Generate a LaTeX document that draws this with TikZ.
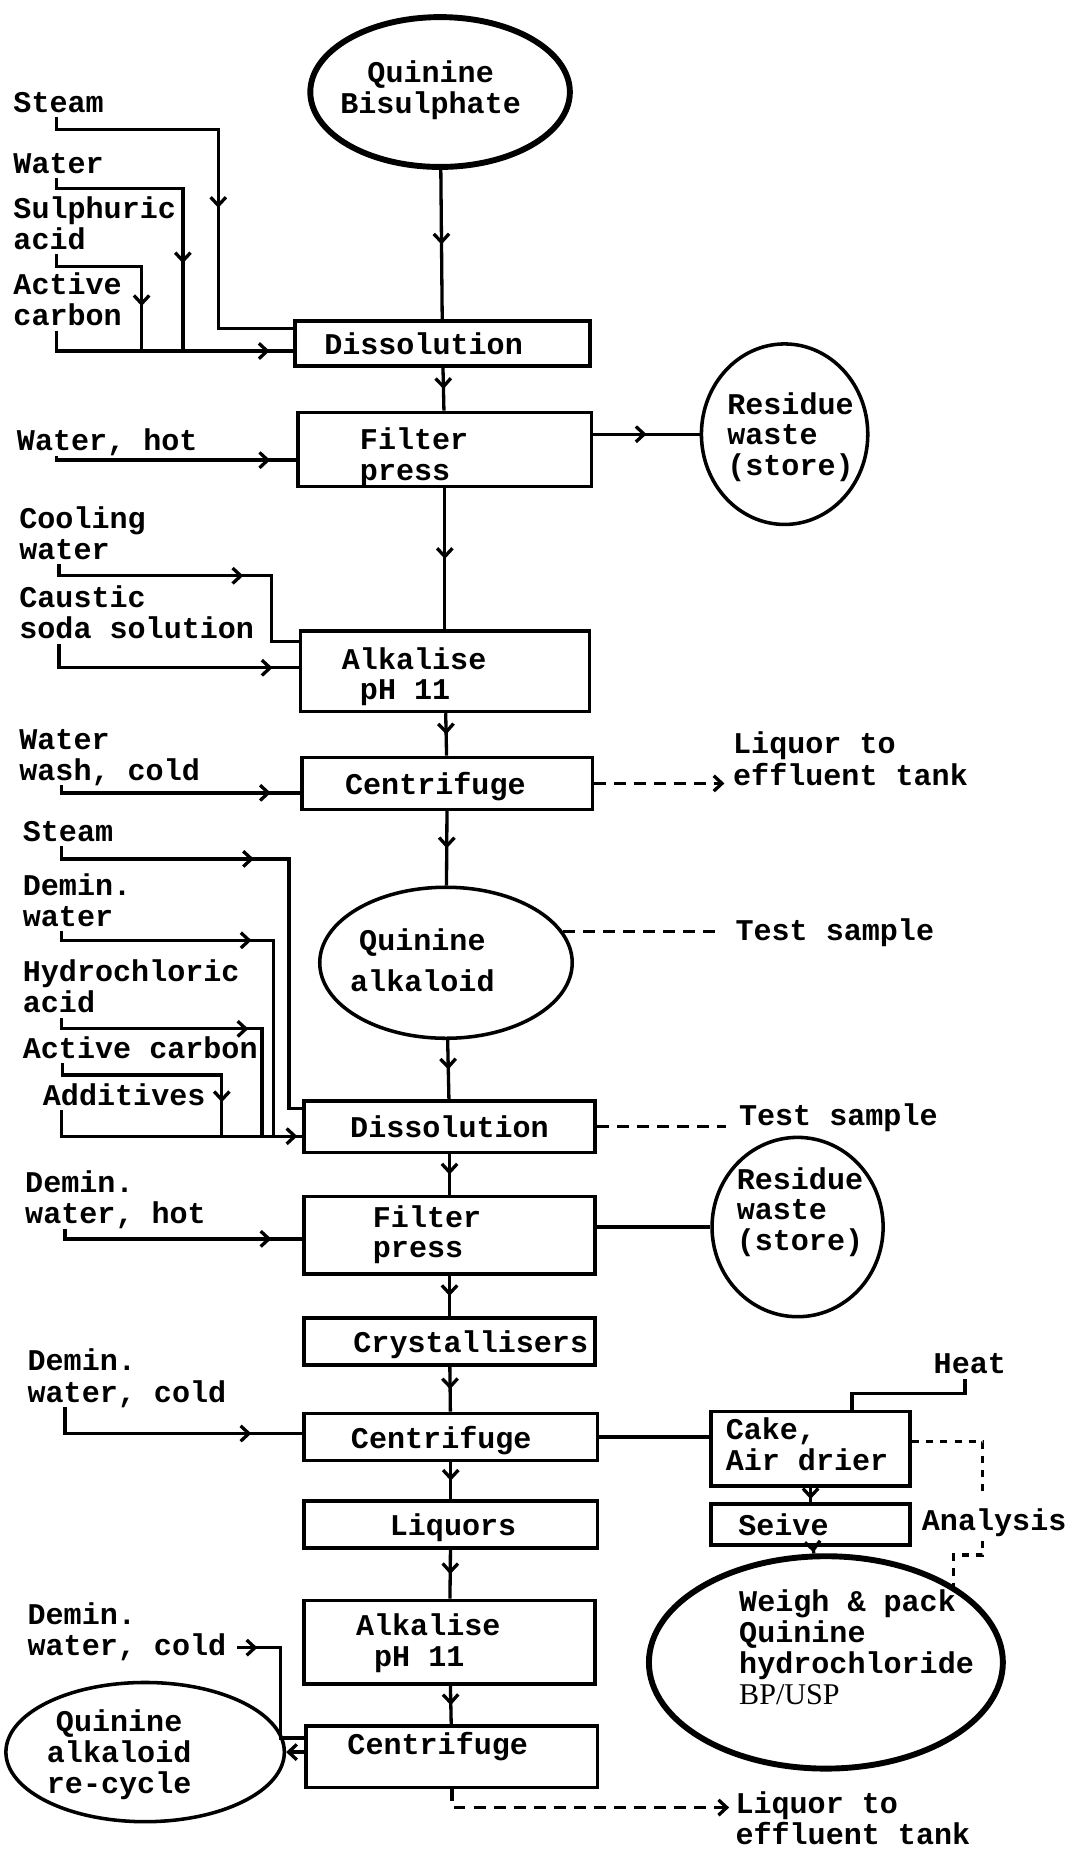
\documentclass[tikz,border=0pt]{standalone}
\usepackage{fontspec}
\setmainfont{Liberation Mono}
\newfontfamily\bpfont{Liberation Serif}
\usetikzlibrary{positioning,arrows.meta,shapes.geometric,decorations.markings}

\newcommand{\lbl}[1]{\begin{tabular}[t]{@{}l@{}}#1\end{tabular}}
\newcommand{\intext}[4][c]{%
  \makebox[0pt]{\kern#2\relax\smash{\raisebox{\dimexpr#3-10pt\relax}{%
    \begin{tabular}{@{}#1@{}}#4\end{tabular}}}\kern-#2\relax}}

\tikzset{
  procbox/.style={draw, rectangle, line width=3pt, inner sep=0pt},
  vessel/.style={draw, ellipse, line width=3pt, inner sep=0pt},
  bigvessel/.style={vessel, line width=5pt},
  feed/.style={anchor=base west, inner sep=0pt},
  dashline/.style={dash pattern=on 10pt off 7pt},
  dotline/.style={dash pattern=on 6pt off 6pt},
  arrat/.style={postaction={decorate,
      decoration={markings, mark=at position #1 with {\arrow{>}}}}}
}

\begin{document}
\begin{tikzpicture}[x=1pt, y=-1pt, line width=2.8pt,
    >={Straight Barb[length=7pt,width=13pt]},
    font=\fontsize{25.5}{26}\selectfont\bfseries]
  \useasboundingbox (0,0) rectangle (915,1568);

  % process line
  \node[bigvessel, minimum width=220pt, minimum height=127pt] (bis) at (373,78) {\intext{-8pt}{4pt}{Quinine\\Bisulphate}};
  \node[procbox, minimum width=250pt, minimum height=38pt] (diss1) at (375,291) {\intext{-16pt}{0pt}{Dissolution}};
  \node[procbox, minimum width=249pt, minimum height=63pt] (filt1) at (377,381) {\intext[l]{-26pt}{-4pt}{Filter\\press}};
  \node[vessel, minimum width=141pt, minimum height=153pt] (res1) at (665,368) {\intext[l]{5pt}{0pt}{Residue\\waste\\(store)}};
  \node[procbox, minimum width=245pt, minimum height=68pt] (alk1) at (377,569) {\intext[l]{-26pt}{-2pt}{Alkalise\\\phantom{A}pH 11}};
  \node[procbox, minimum width=246pt, minimum height=44pt] (cen1) at (379,664) {\intext{-10pt}{0pt}{Centrifuge}};
  \node[vessel, minimum width=214pt, minimum height=128pt] (qa) at (378,816) {\intext{-20pt}{2pt}{Quinine\\[9pt]alkaloid}};
  \node[procbox, minimum width=247pt, minimum height=44pt] (diss2) at (381,955) {\intext{0pt}{0pt}{Dissolution}};
  \node[procbox, minimum width=247pt, minimum height=66pt] (filt2) at (381,1047) {\intext[l]{-19pt}{3pt}{Filter\\press}};
  \node[vessel, minimum width=145pt, minimum height=152pt] (res2) at (676,1040) {\intext[l]{2pt}{15pt}{Residue\\waste\\(store)}};
  \node[procbox, minimum width=247pt, minimum height=40pt] (cry) at (381,1137) {\intext{18pt}{0pt}{Crystallisers}};
  \node[procbox, minimum width=249pt, minimum height=40pt] (cen3) at (382,1218) {\intext{-8pt}{0pt}{Centrifuge}};
  \node[procbox, minimum width=169pt, minimum height=63pt] (cake) at (687,1228) {\intext[l]{-3pt}{4pt}{Cake,\\Air drier}};
  \node[procbox, minimum width=169pt, minimum height=35pt] (seive) at (687,1292) {\intext[l]{-23pt}{0pt}{Seive}};
  \node[bigvessel, minimum width=300pt, minimum height=180pt] (wp) at (700,1409) {\intext[l]{26pt}{13pt}{Weigh \& pack\\Quinine\\hydrochloride\\{\bpfont\mdseries BP/USP}}};
  \node[procbox, minimum width=249pt, minimum height=40pt] (liq) at (382,1292) {\intext{2pt}{0pt}{Liquors}};
  \node[procbox, minimum width=247pt, minimum height=71pt] (alk2) at (381,1392) {\intext[l]{-18pt}{2pt}{Alkalise\\\phantom{A}pH 11}};
  \node[procbox, minimum width=247pt, minimum height=52pt] (cen4) at (383,1489) {\intext{-12pt}{11pt}{Centrifuge}};
  \node[vessel, minimum width=236pt, minimum height=118pt] (qar) at (123,1485) {\intext{-22pt}{0pt}{Quinine\\alkaloid\\re-cycle}};

  % feeds and outlets
  \node[feed] (steamA) at (10,95) {\lbl{Steam}};
  \node[feed] (waterA) at (10,147) {\lbl{Water}};
  \node[feed] (sulph) at (10,185) {\lbl{Sulphuric\\acid}};
  \node[feed] (actA) at (10,250) {\lbl{Active\\carbon}};
  \node[feed] (wathot) at (13,382) {\lbl{Water, hot}};
  \node[feed] (cool) at (15,448) {\lbl{Cooling\\water}};
  \node[feed] (caus) at (15,515) {\lbl{Caustic\\soda solution}};
  \node[feed] (wash) at (15,635) {\lbl{Water\\wash, cold}};
  \node[feed] (liqA) at (620,639) {\lbl{Liquor to\\effluent tank}};
  \node[feed] (steamB) at (18,713) {\lbl{Steam}};
  \node[feed] (deminA) at (18,759) {\lbl{Demin.\\water}};
  \node[feed] (test1) at (622,797) {\lbl{Test sample}};
  \node[feed] (hcl) at (18,832) {\lbl{Hydrochloric\\acid}};
  \node[feed] (actB) at (18,897) {\lbl{Active carbon}};
  \node[feed] (add) at (35,937) {\lbl{Additives}};
  \node[feed] (test2) at (625,954) {\lbl{Test sample}};
  \node[feed] (deminB) at (20,1011) {\lbl{Demin.\\water, hot}};
  \node[feed] (deminC) at (22,1162) {\lbl{Demin.\\water, cold}};
  \node[feed] (heat) at (790,1164) {\lbl{Heat}};
  \node[feed] (anal) at (780,1297) {\lbl{Analysis}};
  \node[feed] (deminD) at (22,1377) {\lbl{Demin.\\water, cold}};
  \node[feed] (liqB) at (622,1537) {\lbl{Liquor to\\effluent tank}};
  \coordinate (an1) at (833,1268);
  \coordinate (an2) at (833,1306);

  \draw[arrat=0.5] (bis) -- (diss1);
  \draw[arrat=214pt] ([shift={(38pt,5pt)}]steamA.south west) |- (185,110) |- ([yshift=-8pt]diss1.north west);
  \draw[arrat=179pt] ([shift={(38pt,5pt)}]waterA.south west) |- (155,160) |- ([yshift=14pt]diss1.south west);
  \draw[arrat=116pt] ([shift={(38pt,5pt)}]sulph.south west) |- (120,226) |- ([yshift=14pt]diss1.south west);
  \draw[arrat=-20pt] ([shift={(38pt,5pt)}]actA.south west) |- ([yshift=14pt]diss1.south west);

  \draw[arrat=0.5] (diss1) -- (filt1);
  \draw[arrat=-22pt] ([shift={(35pt,5pt)}]wathot.south west) |- ([yshift=-9pt]filt1.west);
  \draw[arrat=0.5] (filt1.east |- res1) -- (res1.west);
  \draw[arrat=0.5] (filt1) -- (alk1);
  \draw[arrat=166pt] ([shift={(35pt,5pt)}]cool.south west) |- (230,488) |- ([yshift=-10pt]alk1.north west);
  \draw[arrat=-22pt] ([shift={(35pt,5pt)}]caus.south west) |- ([yshift=3pt]alk1.west);
  \draw[arrat=0.5] (alk1) -- (cen1);
  \draw[arrat=-25pt] ([shift={(37pt,5pt)}]wash.south west) |- ([yshift=-8pt]cen1.west);
  \draw[dashline,->,shorten >=6pt] (cen1.east) -- (cen1.east -| liqA.west);
  \draw[arrat=0.5] (cen1) -- (qa);
  \draw[dashline,shorten >=10pt] (qa.15) -- (qa.15 -| test1.west);

  \draw[arrat=174pt] ([shift={(34pt,5pt)}]steamB.south west) |- (245,728) |- ([yshift=-8pt]diss2.north west);
  \draw[arrat=169pt] ([shift={(34pt,5pt)}]deminA.south west) |- (232,797) |- ([yshift=-8pt]diss2.west);
  \draw[arrat=168pt] ([shift={(34pt,5pt)}]hcl.south west) |- (222,872) |- ([yshift=-8pt]diss2.west);
  \draw[arrat=168pt] ([shift={(35pt,5pt)}]actB.south west) |- (188,911) |- ([yshift=-8pt]diss2.west);
  \draw[arrat=-4pt] ([shift={(17pt,5pt)}]add.south west) |- ([yshift=-8pt]diss2.west);
  \draw[arrat=0.5] (qa) -- (diss2);
  \draw[dashline,shorten >=10pt] (diss2.east) -- (diss2.east -| test2.west);

  \draw[arrat=0.5] (diss2) -- (filt2);
  \draw[arrat=-26pt] ([shift={(35pt,5pt)}]deminB.south west) |- ([yshift=-3pt]filt2.west);
  \draw (filt2.east |- res2) -- (res2.west);
  \draw[arrat=0.5] (filt2) -- (cry);
  \draw[arrat=0.5] (cry) -- (cen3);
  \draw[arrat=-43pt] ([shift={(33pt,5pt)}]deminC.south west) |- ([yshift=3pt]cen3.west);
  \draw (cen3.east) -- (cen3.east -| cake.west);
  \draw ([shift={(28pt,4pt)}]heat.south west) -- ++(0,12) -| ([xshift=35pt]cake.north);
  \draw[arrat=0.8] (cake) -- (seive);
  \draw[arrat=0.8] (seive) -- (wp);
  \draw[dotline] ([yshift=6pt]cake.east) -| (an1);
  \draw[dotline] (an2) -- ++(0,12) -| (wp.31);

  \draw[arrat=0.5] (cen3) -- (liq);
  \draw[arrat=0.5] (liq) -- (alk2);
  \draw[arrat=0.5] (alk2) -- (cen4);
  \draw[arrat=17pt] ([shift={(8pt,16pt)}]deminD.south east) -| ([xshift=-20pt,yshift=16pt]cen4.west) -- ([yshift=16pt]cen4.west);
  \draw[->] (cen4.west |- qar) -- (qar.east);
  \draw[dashline,->,shorten >=4pt] (cen4.south) |- ([yshift=5pt]liqB.base west);
\end{tikzpicture}
\end{document}
